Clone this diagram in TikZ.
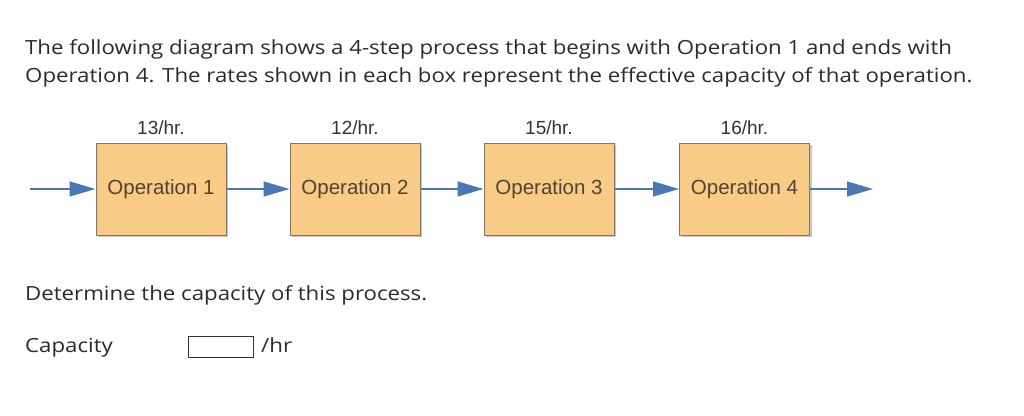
\documentclass[tikz,border=0pt]{standalone}
\usepackage{fontspec}
\setmainfont[FakeStretch=1.14]{Open Sans}
\newfontfamily\boxfont{Liberation Sans}
\usetikzlibrary{arrows.meta}
\definecolor{opfill}{HTML}{F8CB86}
\definecolor{opdraw}{HTML}{857463}
\definecolor{optext}{HTML}{4F4336}
\definecolor{flow}{HTML}{4A78B5}
\definecolor{maintext}{HTML}{2B2B2B}
\begin{document}
\begin{tikzpicture}[x=1pt,y=-1pt,
  opbox/.style={draw=opdraw,fill=opfill,line width=1pt,minimum width=130pt,minimum height=92pt,inner sep=0pt,
    font=\boxfont\fontsize{20.5}{22}\selectfont,text=optext},
  rate/.style={font=\boxfont\fontsize{19}{20}\selectfont,text=black!80},
  flowarrow/.style={draw=flow,line width=1.3pt,-{Triangle[length=26pt,width=15pt]}},
  para/.style={font=\fontsize{19.5}{28}\selectfont,text=maintext,anchor=base west,inner sep=0pt}]
\useasboundingbox (0,0) rectangle (1024,415);
\fill[white] (0,0) rectangle (1024,415);
\node[para] (l1) at (25,54) {The following diagram shows a 4-step process that begins with Operation 1 and ends with};
\node[para] (l2) at (25,82) {Operation 4. The rates shown in each box represent the effective capacity of that operation.};
\foreach \i/\x/\r in {1/161/13,2/355/12,3/549/15,4/744.5/16}{
  \fill[black!22] (\x-65+2,189-46+2) rectangle (\x+65+2,189+46+2);
  \node[opbox] (op\i) at (\x,189) {Operation \i};
  \node[rate] (r\i) at (\x,128) {\r/hr.};
}
\coordinate (start) at (30,189);
\coordinate (end) at (873,189);
\draw[flowarrow] (start) -- (op1.west);
\draw[flowarrow] (op1.east) -- (op2.west);
\draw[flowarrow] (op2.east) -- (op3.west);
\draw[flowarrow] (op3.east) -- (op4.west);
\draw[flowarrow] (op4.east) -- (end);
\node[para] (q) at (25,300) {Determine the capacity of this process.};
\node[para] (cap) at (25,352) {Capacity};
\node[draw=black!80,line width=1pt,minimum width=65pt,minimum height=21pt,inner sep=0pt] (ans) at (220.5,347) {};
\node[para] (unit) at (261,352) {/hr};
\end{tikzpicture}
\end{document}
